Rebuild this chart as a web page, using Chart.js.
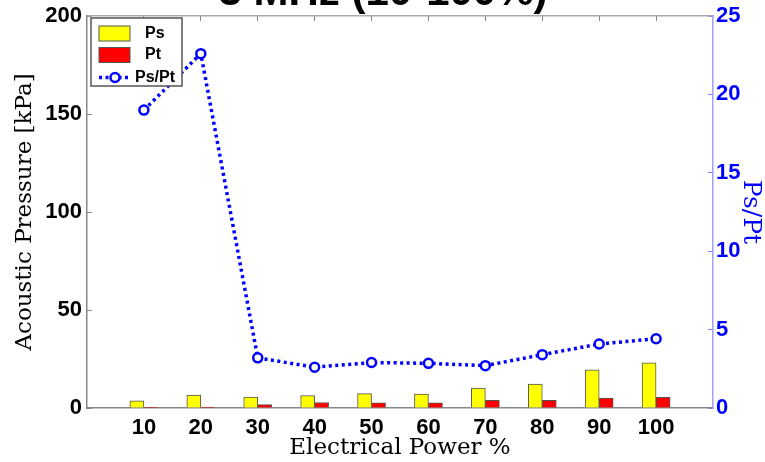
<!DOCTYPE html>
<html>
<head>
<meta charset="utf-8">
<script src="https://cdn.jsdelivr.net/npm/chart.js@4.4.1/dist/chart.umd.min.js"></script>
<style>
  html, body { margin: 0; padding: 0; background: #fff; }
  #wrap { width: 765px; height: 462px; overflow: hidden; }
</style>
</head>
<body>
<div id="wrap"><canvas id="chartPressure" width="765" height="462"></canvas></div>
<script>

const powerLevels = [10, 20, 30, 40, 50, 60, 70, 80, 90, 100];
const psValues = [3.7, 6.6, 5.6, 6.3, 7.3, 7.1, 10.2, 12.2, 19.5, 23.0];
const ptValues = [0.2, 0.2, 1.7, 2.8, 2.7, 2.7, 3.9, 3.9, 5.1, 5.4];
const ratioValues = [19.0, 22.6, 3.2, 2.6, 2.9, 2.85, 2.7, 3.4, 4.08, 4.42];
const seriesNames = ['Ps', 'Pt', 'Ps/Pt'];
const chartTitle = '3 MHz (10-100%)';

const toPoints = (vals) => vals.map((v, i) => ({x: powerLevels[i], y: v}));
const powerTicks = (axis) => { axis.ticks = powerLevels.map(v => ({value: v})); };
// fixed axis sizes so the plot box lands where the matlab one is
const fixWidth = (w) => (axis) => { axis.width = w; axis.paddingTop = 0; axis.paddingBottom = 0; };
const fixHeight = (h) => (axis) => { axis.height = h; axis.paddingLeft = 0; axis.paddingRight = 0; };

Chart.defaults.font.family = "'Liberation Sans', Arial, sans-serif";
Chart.defaults.color = '#000';

// title sits mostly above the picture, only the bottom of the glyphs shows
const clippedTitle = {
  id: 'clippedTitle',
  afterDraw(chart) {
    const ctx = chart.ctx;
    ctx.save();
    ctx.font = "bold 42px 'Liberation Sans', Arial, sans-serif";
    ctx.fillStyle = '#000';
    ctx.textAlign = 'center';
    ctx.textBaseline = 'alphabetic';
    ctx.fillText(chartTitle, 383, 5);
    ctx.restore();
  }
};

// matlab style legend box in the upper left corner
const boxLegend = {
  id: 'boxLegend',
  afterDraw(chart) {
    const {ctx, chartArea} = chart;
    const x0 = chartArea.left + 4, y0 = chartArea.top + 2;
    const rows = [15.5, 37, 59.5];
    ctx.save();
    ctx.fillStyle = '#fff';
    ctx.fillRect(x0, y0, 91, 68);
    ctx.strokeStyle = '#555';
    ctx.lineWidth = 1.5;
    ctx.strokeRect(x0, y0, 91, 68);
    chart.data.datasets.forEach((ds, i) => {
      const cy = y0 + rows[i];
      const sx = x0 + 8;
      if (ds.type === 'line') {
        ctx.strokeStyle = ds.borderColor;
        ctx.lineWidth = ds.borderWidth;
        ctx.setLineDash(ds.borderDash);
        ctx.beginPath();
        ctx.moveTo(sx, cy);
        ctx.lineTo(sx + 31, cy);
        ctx.stroke();
        ctx.setLineDash([]);
        ctx.fillStyle = ds.pointBackgroundColor;
        ctx.lineWidth = ds.pointBorderWidth;
        ctx.beginPath();
        ctx.arc(sx + 16, cy, ds.pointRadius, 0, Math.PI * 2);
        ctx.fill();
        ctx.stroke();
      } else {
        ctx.fillStyle = ds.backgroundColor;
        ctx.fillRect(sx, cy - 7.5, 31, 15);
        ctx.strokeStyle = ds.borderColor;
        ctx.lineWidth = 1;
        ctx.strokeRect(sx, cy - 7.5, 31, 15);
      }
      ctx.fillStyle = '#000';
      ctx.font = "bold 16px 'Liberation Sans', Arial, sans-serif";
      ctx.textAlign = 'left';
      ctx.textBaseline = 'middle';
      ctx.fillText(ds.label, x0 + (ds.type === 'line' ? 44 : 54), cy);
    });
    ctx.restore();
  }
};

const chartPressure = new Chart('chartPressure', {
  data: {
    datasets: [{
      type: 'bar',
      label: seriesNames[0],
      data: toPoints(psValues),
      backgroundColor: '#ffff00',
      borderColor: '#555',
      borderWidth: 1,
      barThickness: 14,
      yAxisID: 'y',
      order: 1
    }, {
      type: 'bar',
      label: seriesNames[1],
      data: toPoints(ptValues),
      backgroundColor: '#ff0000',
      borderColor: '#555',
      borderWidth: 1,
      barThickness: 14,
      yAxisID: 'y',
      order: 1
    }, {
      type: 'line',
      label: seriesNames[2],
      data: toPoints(ratioValues),
      borderColor: '#0000ff',
      borderWidth: 3.5,
      borderDash: [3, 3.5],
      pointRadius: 4.5,
      pointBorderWidth: 2.5,
      pointBorderColor: '#0000ff',
      pointBackgroundColor: '#fff',
      fill: false,
      yAxisID: 'y2',
      order: 0
    }]
  },
  options: {
    responsive: false,
    animation: false,
    layout: {padding: 0},
    plugins: {
      legend: {display: false},
      tooltip: {enabled: false}
    },
    scales: {
      x: {
        type: 'linear',
        position: 'bottom',
        min: 0,
        max: 110,
        offset: false,
        afterBuildTicks: powerTicks,
        afterFit: fixHeight(54),
        ticks: {font: {size: 22, weight: 'bold'}, padding: 7, maxRotation: 0},
        grid: {display: false, drawTicks: false, offset: false},
        border: {color: '#888', width: 1.5},
        title: {
          display: true,
          text: 'Electrical Power %',
          font: {family: "'DejaVu Serif', serif", size: 23},
          padding: {top: 0, bottom: 0}
        }
      },
      xTop: {
        type: 'linear',
        position: 'top',
        min: 0,
        max: 110,
        offset: false,
        afterBuildTicks: powerTicks,
        afterFit: fixHeight(16),
        ticks: {display: false},
        grid: {drawOnChartArea: false, drawTicks: true, tickLength: -5, color: '#888', offset: false},
        border: {color: '#aaa', width: 1.5}
      },
      y: {
        position: 'left',
        min: 0,
        max: 200,
        afterFit: fixWidth(87),
        ticks: {stepSize: 50, font: {size: 22, weight: 'bold'}, padding: 10},
        grid: {drawOnChartArea: false, drawTicks: true, tickLength: -5, color: '#888'},
        border: {color: '#888', width: 1.5},
        title: {
          display: true,
          text: 'Acoustic Pressure [kPa]',
          font: {family: "'DejaVu Serif', serif", size: 23},
          padding: {top: 11, bottom: 0}
        }
      },
      y2: {
        position: 'right',
        min: 0,
        max: 25,
        afterFit: fixWidth(52),
        ticks: {stepSize: 5, color: '#0000ff', font: {size: 22, weight: 'bold'}, padding: 8},
        grid: {drawOnChartArea: false, drawTicks: true, tickLength: -5, color: '#8080ff'},
        border: {color: '#a0a0ff', width: 1.5},
        title: {
          display: true,
          text: 'Ps/Pt',
          color: '#0000ff',
          font: {family: "'DejaVu Serif', serif", size: 25},
          padding: {top: 0, bottom: 0}
        }
      }
    }
  },
  plugins: [clippedTitle, boxLegend]
});
</script>
</body>
</html>
